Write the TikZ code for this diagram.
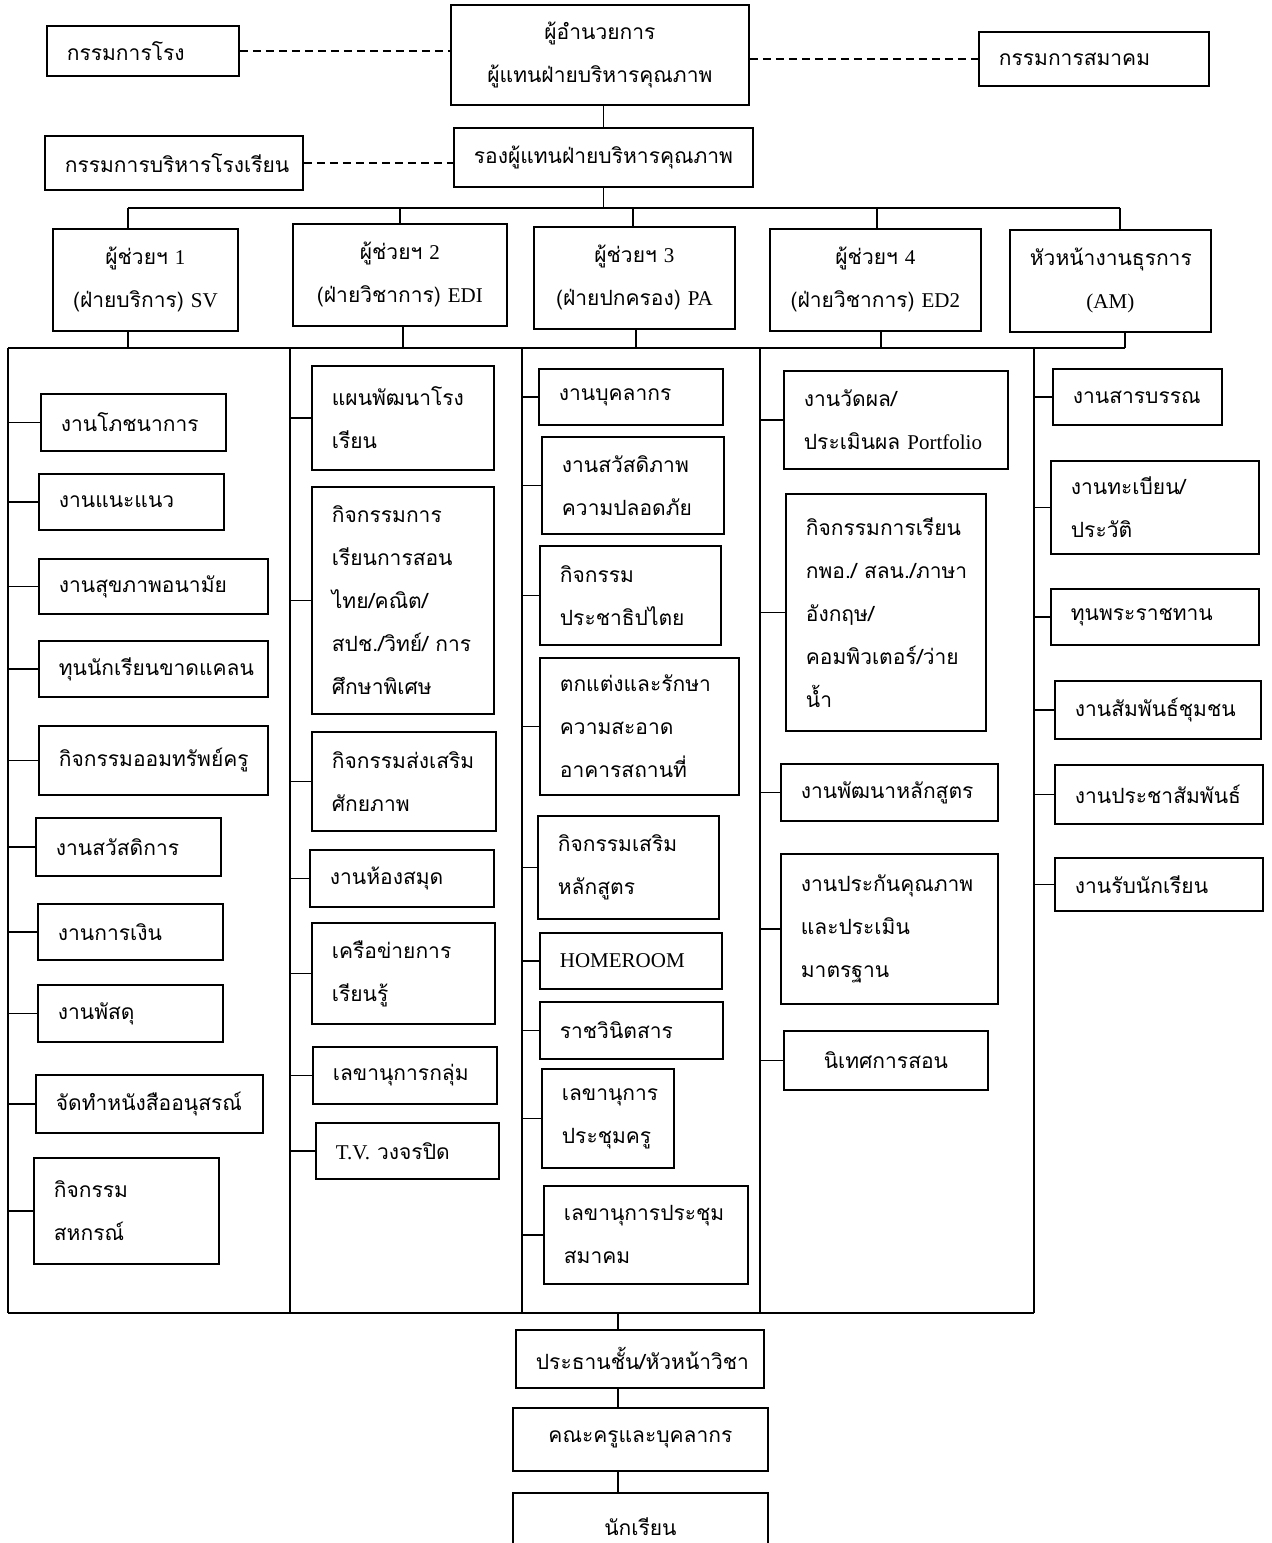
\documentclass[tikz,border=0pt]{standalone}
\usepackage{fontspec}
\setmainfont{Liberation Serif}
\newfontfamily\thai[Script=Thai]{Loma}
\newfontfamily\latf{Liberation Serif}
\newcommand\lat[1]{{\latf #1}}
\newcommand\bx[7]{%
  \pgfmathsetmacro\bxw{(#5-#3)*0.5}%
  \pgfmathsetmacro\bxh{(#6-#4)*0.5}%
  \pgfmathsetmacro\bxt{(#5-#3)*0.5-20}%
  \node[#1, minimum width=\bxw pt, minimum height=\bxh pt, text width=\bxt pt] (#2) at (#3,#4) {#7};}
\tikzset{
  boxbase/.style={draw, line width=0.9pt, anchor=north west, inner xsep=10pt, inner ysep=2pt,
    font=\thai\fontsize{10.5}{21.5}\selectfont},
  lbox/.style={boxbase, align=left},
  cbox/.style={boxbase, align=center},
  conn/.style={line width=0.7pt},
  dconn/.style={line width=0.7pt, dash pattern=on 4pt off 2.5pt}
}
\begin{document}
\begin{tikzpicture}[x=0.5pt,y=-0.5pt]
\useasboundingbox (0,0) rectangle (1272,1543);
\clip (0,0) rectangle (1272,1543);
% top level
\bx{lbox}{kr1}{46}{25}{238}{75}{กรรมการโรง}
\bx{cbox}{dir}{450}{4}{748}{104}{ผู้อำนวยการ\\ผู้แทนฝ่ายบริหารคุณภาพ}
\bx{lbox}{kr3}{978}{31}{1208}{85}{กรรมการสมาคม}
\bx{cbox}{dep}{453}{127}{752}{186}{รองผู้แทนฝ่ายบริหารคุณภาพ}
\bx{lbox}{kr2}{44}{135}{302}{189}{กรรมการบริหารโรงเรียน}
\draw[dconn] (kr1.east) -- (kr1.east -| dir.west);
\draw[dconn] (dir.east |- kr3.west) -- (kr3.west);
\draw[dconn] (kr2.east) -- (kr2.east -| dep.west);
\draw[conn] (dir.south -| dep.north) -- (dep.north);
% assistants
\bx{cbox}{a1}{52}{228}{237}{330}{ผู้ช่วยฯ \lat{1}\\(ฝ่ายบริการ) \lat{SV}}
\bx{cbox}{a2}{292}{223}{506}{325}{ผู้ช่วยฯ \lat{2}\\(ฝ่ายวิชาการ) \lat{EDI}}
\bx{cbox}{a3}{533}{226}{734}{328}{ผู้ช่วยฯ \lat{3}\\(ฝ่ายปกครอง) \lat{PA}}
\bx{cbox}{a4}{769}{228}{980}{330}{ผู้ช่วยฯ \lat{4}\\(ฝ่ายวิชาการ) \lat{ED2}}
\bx{cbox}{am}{1009}{229}{1210}{331}{หัวหน้างานธุรการ\\\lat{(AM)}}
\coordinate (busL) at (128,208);
\coordinate (busR) at (1120,208);
\draw[conn] (busL) -- (busR);
\draw[conn] (dep.south) -- (dep.south |- busL);
\draw[conn] (busL) -- (busL |- a1.north);
\draw[conn] (400,208) -- (400,223);
\draw[conn] (633,208) -- (633,226);
\draw[conn] (877,208) -- (877,228);
\draw[conn] (busR) -- (busR |- am.north);
% frame
\coordinate (f1) at (8,348);
\coordinate (f2) at (290,348);
\coordinate (f3) at (522,348);
\coordinate (f4) at (760,348);
\coordinate (f5) at (1034,348);
\coordinate (fe) at (1125,348);
\draw[conn] (f1) -- (fe);
\draw[conn] (busL |- a1.south) -- (busL |- f1);
\draw[conn] (403,325) -- (403,348);
\draw[conn] (636,328) -- (636,348);
\draw[conn] (881,330) -- (881,348);
\draw[conn] (fe |- am.south) -- (fe);
\foreach \c in {f1,f2,f3,f4,f5} \draw[conn] (\c) -- ++(0,965);
\draw[conn] (8,1313) -- (1034,1313);
% column 1
\bx{lbox}{c1a}{40}{393}{225}{450}{งานโภชนาการ}
\bx{lbox}{c1b}{38}{473}{223}{529}{งานแนะแนว}
\bx{lbox}{c1c}{38}{558}{267}{613}{งานสุขภาพอนามัย}
\bx{lbox}{c1d}{38}{640}{267}{696}{ทุนนักเรียนขาดแคลน}
\bx{lbox}{c1e}{38}{725}{267}{794}{กิจกรรมออมทรัพย์ครู}
\bx{lbox}{c1f}{35}{817}{220}{875}{งานสวัสดิการ}
\bx{lbox}{c1g}{37}{903}{222}{959}{งานการเงิน}
\bx{lbox}{c1h}{37}{984}{222}{1041}{งานพัสดุ}
\bx{lbox}{c1i}{35}{1074}{262}{1132}{จัดทำหนังสืออนุสรณ์}
\bx{lbox}{c1j}{33}{1157}{218}{1263}{กิจกรรม\\สหกรณ์}
\foreach \n in {c1a,c1b,c1c,c1d,c1e,c1f,c1g,c1h,c1i,c1j} \draw[conn] (f1 |- \n.west) -- (\n.west);
% column 2
\bx{lbox}{c2a}{311}{365}{493}{469}{แผนพัฒนาโรง\\เรียน}
\bx{lbox}{c2b}{311}{486}{493}{713}{กิจกรรมการ\\เรียนการสอน\\ไทย/คณิต/\\\mbox{สปช./วิทย์/ การ}\\ศึกษาพิเศษ}
\bx{lbox}{c2c}{311}{731}{495}{830}{กิจกรรมส่งเสริม\\ศักยภาพ}
\bx{lbox}{c2d}{309}{849}{493}{906}{งานห้องสมุด}
\bx{lbox}{c2e}{311}{922}{494}{1023}{เครือข่ายการ\\เรียนรู้}
\bx{lbox}{c2f}{312}{1046}{496}{1103}{เลขานุการกลุ่ม}
\bx{lbox}{c2g}{315}{1122}{498}{1178}{\lat{T.V.} วงจรปิด}
\foreach \n in {c2a,c2b,c2c,c2d,c2e,c2f,c2g} \draw[conn] (f2 |- \n.west) -- (\n.west);
% column 3
\bx{lbox}{c3a}{538}{368}{722}{424}{งานบุคลากร}
\bx{lbox}{c3b}{541}{436}{723}{533}{งานสวัสดิภาพ\\ความปลอดภัย}
\bx{lbox}{c3c}{539}{545}{720}{644}{กิจกรรม\\ประชาธิปไตย}
\bx{lbox}{c3d}{539}{657}{738}{794}{ตกแต่งและรักษา\\ความสะอาด\\อาคารสถานที่}
\bx{lbox}{c3e}{537}{815}{718}{918}{กิจกรรมเสริม\\หลักสูตร}
\bx{lbox}{c3f}{539}{932}{721}{988}{\lat{HOMEROOM}}
\bx{lbox}{c3g}{539}{1001}{722}{1058}{ราชวินิตสาร}
\bx{lbox}{c3h}{541}{1068}{673}{1167}{เลขานุการ\\ประชุมครู}
\bx{lbox}{c3i}{543}{1185}{747}{1283}{เลขานุการประชุม\\สมาคม}
\foreach \n in {c3a,c3b,c3c,c3d,c3e,c3f,c3g,c3h,c3i} \draw[conn] (f3 |- \n.west) -- (\n.west);
% column 4
\bx{lbox}{c4a}{783}{370}{1007}{468}{งานวัดผล/\\ประเมินผล \lat{Portfolio}}
\bx{lbox}{c4b}{785}{493}{985}{730}{กิจกรรมการเรียน\\\mbox{กพอ./ สลน./ภาษา}\\อังกฤษ/\\คอมพิวเตอร์/ว่าย\\น้ำ}
\bx{lbox}{c4c}{780}{763}{997}{820}{งานพัฒนาหลักสูตร}
\bx{lbox}{c4d}{780}{853}{997}{1003}{งานประกันคุณภาพ\\และประเมิน\\มาตรฐาน}
\bx{cbox}{c4e}{783}{1030}{987}{1089}{นิเทศการสอน}
\foreach \n in {c4a,c4b,c4c,c4d,c4e} \draw[conn] (f4 |- \n.west) -- (\n.west);
% column 5
\bx{lbox}{c5a}{1052}{368}{1221}{424}{งานสารบรรณ}
\bx{lbox}{c5b}{1050}{460}{1258}{553}{งานทะเบียน/\\ประวัติ}
\bx{lbox}{c5c}{1050}{588}{1258}{644}{ทุนพระราชทาน}
\bx{lbox}{c5d}{1054}{680}{1260}{738}{งานสัมพันธ์ชุมชน}
\bx{lbox}{c5e}{1054}{764}{1262}{823}{งานประชาสัมพันธ์}
\bx{lbox}{c5f}{1054}{857}{1262}{910}{งานรับนักเรียน}
\foreach \n in {c5a,c5b,c5c,c5d,c5e,c5f} \draw[conn] (f5 |- \n.west) -- (\n.west);
% bottom
\coordinate (fb) at (618,1313);
\bx{cbox}{b1}{515}{1329}{763}{1387}{ประธานชั้น/หัวหน้าวิชา}
\bx{cbox}{b2}{512}{1407}{767}{1470}{คณะครูและบุคลากร}
\bx{cbox}{b3}{512}{1492}{767}{1560}{นักเรียน}
\draw[conn] (fb) -- (fb |- b1.north);
\draw[conn] (fb |- b1.south) -- (fb |- b2.north);
\draw[conn] (fb |- b2.south) -- (fb |- b3.north);
\end{tikzpicture}
\end{document}
